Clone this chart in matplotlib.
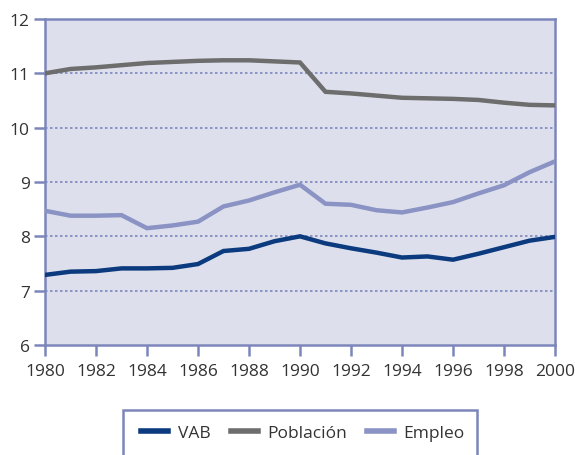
import matplotlib
matplotlib.use("Agg")
import matplotlib.pyplot as plt
from matplotlib.patches import Rectangle
from matplotlib.lines import Line2D

years = list(range(1980, 2001))
vab = [7.29, 7.35, 7.36, 7.41, 7.41, 7.42, 7.49, 7.73, 7.77, 7.91, 8.00,
       7.87, 7.78, 7.70, 7.61, 7.63, 7.57, 7.68, 7.80, 7.92, 7.99]
poblacion = [11.00, 11.08, 11.11, 11.15, 11.19, 11.21, 11.23, 11.24, 11.24, 11.22, 11.20,
             10.66, 10.63, 10.59, 10.55, 10.54, 10.53, 10.51, 10.46, 10.42, 10.41]
empleo = [8.47, 8.38, 8.38, 8.39, 8.15, 8.20, 8.27, 8.55, 8.66, 8.81, 8.95,
          8.60, 8.58, 8.48, 8.44, 8.53, 8.63, 8.79, 8.94, 9.18, 9.38]
series_names = ["VAB", "Población", "Empleo"]
colors = ["#0b3a7e", "#6d6d6d", "#8a93c4"]
xticks = list(range(1980, 2001, 2))
yticks = [6, 7, 8, 9, 10, 11, 12]

plt.rcParams['font.family'] = ['Open Sans', 'DejaVu Sans']
axis_col = "#7c86bb"
txt_col = "#333333"

fig = plt.figure(figsize=(5.75, 4.56), dpi=100)
ax = fig.add_axes([45/575, 1-346/456, 510/575, 326/456])
ax.set_facecolor("#dde0ec")

for vals, name, c in zip([vab, poblacion, empleo], series_names, colors):
    ax.plot(years, vals, color=c, lw=3.2, label=name, solid_joinstyle='miter', zorder=3)

ax.set_xlim(1980, 2000)
ax.set_ylim(6, 12)
ax.set_xticks(xticks)
ax.set_yticks(yticks)
for y in yticks[1:-1]:
    ax.axhline(y, color=axis_col, lw=1.2, ls=(0, (1.5, 1.5)), zorder=1)
for s in ax.spines.values():
    s.set_color(axis_col)
    s.set_linewidth(1.8)
ax.tick_params(axis='both', colors=axis_col, labelcolor=txt_col, width=1.8, length=8,
               labelsize=12.5, direction='out')
ax.tick_params(axis='y', pad=3)
ax.tick_params(axis='x', pad=5)

# legend
fig.patches.append(Rectangle((123/575, 1-458/456), 354/575, 47/456, transform=fig.transFigure,
                             fill=False, edgecolor=axis_col, lw=1.8))
handles = [Line2D([], [], color=c, lw=4) for c in colors]
fig.legend(handles, series_names, loc='center', bbox_to_anchor=(303/575, 1-434/456),
           ncol=3, frameon=False, fontsize=12.5, handlelength=1.55, handletextpad=0.55,
           columnspacing=1.15, labelcolor=txt_col)

fig.savefig("out.png", dpi=100)
